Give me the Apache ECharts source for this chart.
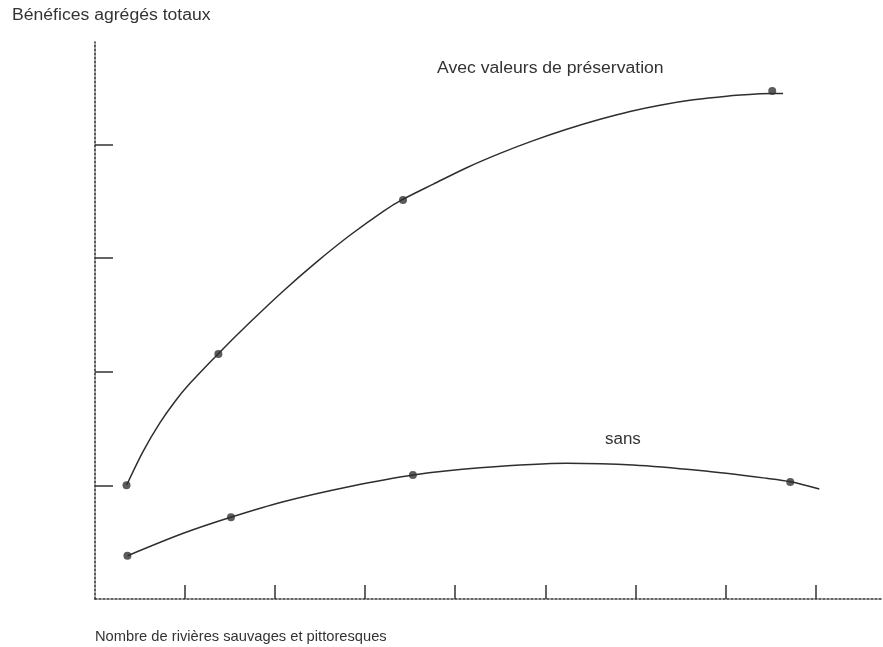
<!DOCTYPE html>
<html>
<head>
<meta charset="utf-8">
<script src="https://cdn.jsdelivr.net/npm/echarts@6/dist/echarts.min.js"></script>
<style>html,body{margin:0;padding:0;background:#fff}#c{width:883px;height:647px}</style>
</head>
<body>
<div id="c"></div>
<script>
// Axis text
const yAxisTitle = 'Bénéfices agrégés totaux';
const xAxisTitle = 'Nombre de rivières sauvages et pittoresques';
const upperLabel = 'Avec valeurs de préservation';
const lowerLabel = 'sans';

// Tick positions (unlabelled in the original)
const xTicks = [1, 2, 3, 4, 5, 6, 7, 8];
const yTicks = [1, 2, 3, 4];

// Curve: with preservation values
const upperCurve = [
  [0.352, 1.003], [0.533, 1.297], [0.722, 1.551], [0.888, 1.738], [1.055, 1.897],
  [1.369, 2.158], [1.721, 2.434], [2.091, 2.710], [2.462, 2.966], [2.831, 3.200],
  [3.201, 3.411], [3.417, 3.515], [3.757, 3.650], [4.127, 3.794], [4.497, 3.920],
  [4.867, 4.032], [5.238, 4.132], [5.608, 4.220], [5.941, 4.289], [6.274, 4.344],
  [6.644, 4.391], [7.014, 4.423], [7.384, 4.444], [7.517, 4.448], [7.640, 4.448]
];
const upperDots = [[0.35, 1.00], [1.37, 2.155], [3.42, 3.51], [7.52, 4.47]];

// Curve: without
const lowerCurve = [
  [0.363, 0.381], [0.980, 0.578], [1.507, 0.719], [2.091, 0.856], [2.831, 0.990],
  [3.534, 1.091], [4.275, 1.154], [5.238, 1.194], [5.974, 1.179], [6.718, 1.130],
  [7.458, 1.062], [7.725, 1.032], [8.043, 0.968]
];
const lowerDots = [[0.36, 0.38], [1.51, 0.72], [3.53, 1.09], [7.72, 1.03]];

const ink = '#2e2e2e';
const font = '"Liberation Sans", Arial, sans-serif';

const chart = echarts.init(document.getElementById('c'), null, {renderer: 'canvas'});
chart.setOption({
  animation: false,
  backgroundColor: '#fff',
  grid: {left: 95, right: 0, top: 42, bottom: 48},
  xAxis: {
    type: 'value', min: 0, max: 8.75, interval: 1,
    axisLine: {show: true, lineStyle: {color: '#333', width: 1.6, type: [2, 2]}},
    axisTick: {show: true, inside: true, length: 14, customValues: xTicks, lineStyle: {color: '#333', width: 1.5}},
    axisLabel: {show: false},
    splitLine: {show: false}
  },
  yAxis: {
    type: 'value', min: 0, max: 4.9, interval: 1,
    axisLine: {show: true, lineStyle: {color: '#333', width: 1.6, type: [2, 2]}},
    axisTick: {show: true, inside: true, length: 18, customValues: yTicks, lineStyle: {color: '#333', width: 1.5}},
    axisLabel: {show: false},
    splitLine: {show: false}
  },
  series: [
    {type: 'line', data: upperCurve, smooth: 0.3, showSymbol: false, lineStyle: {color: ink, width: 1.5}},
    {type: 'line', data: lowerCurve, smooth: 0.3, showSymbol: false, lineStyle: {color: ink, width: 1.5}},
    {type: 'scatter', data: upperDots, symbolSize: 8, itemStyle: {color: '#333'}},
    {type: 'scatter', data: lowerDots, symbolSize: 8, itemStyle: {color: '#333'}}
  ],
  graphic: [
    {type: 'text', left: 12, top: 8, scaleX: 1.1, style: {text: yAxisTitle, font: '16px ' + font, fill: '#333'}},
    {type: 'text', left: 437, top: 61, scaleX: 1.1, style: {text: upperLabel, font: '16px ' + font, fill: '#333'}},
    {type: 'text', left: 605, top: 432, scaleX: 1.06, style: {text: lowerLabel, font: '16px ' + font, fill: '#333'}},
    {type: 'text', left: 95, top: 629, scaleX: 0.98, style: {text: xAxisTitle, font: '15px ' + font, fill: '#333'}}
  ]
});
</script>
</body>
</html>
